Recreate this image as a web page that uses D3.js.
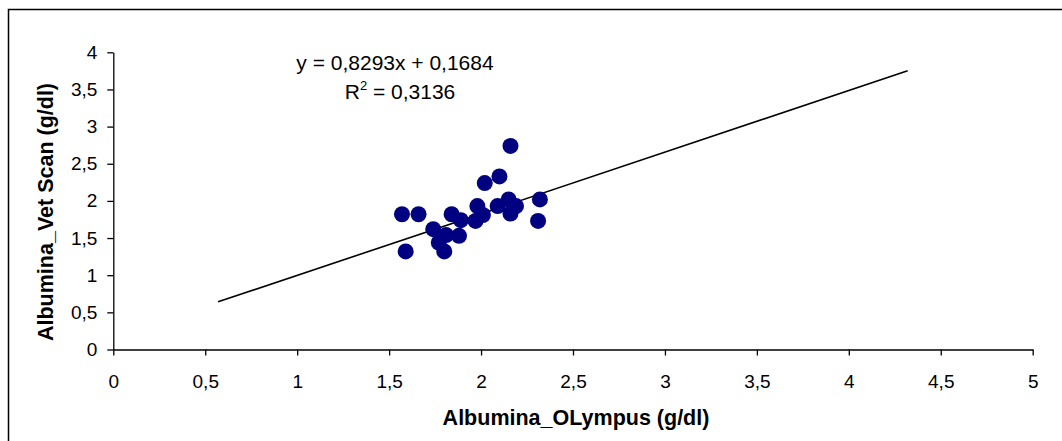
<!DOCTYPE html>
<html>
<head>
<meta charset="utf-8">
<script src="https://cdn.jsdelivr.net/npm/d3@7"></script>
<style>
  html, body { margin: 0; padding: 0; background: #fff; }
  svg { display: block; font-family: Arial, "Liberation Sans", sans-serif; }
</style>
</head>
<body>
<svg id="chart" width="1062" height="441"></svg>
<script>
// Albumin measured on the Olympus analyser (x) vs the Vet Scan (y), g/dl
const olympus = [2.16, 2.10, 2.02, 1.57, 1.66, 1.59, 2.32, 2.31, 1.74, 1.84, 1.89,
                 1.77, 1.80, 1.81, 1.88, 1.98, 1.97, 2.01, 2.09, 2.15, 2.16, 2.19];
const vetScan = [2.74, 2.33, 2.24, 1.82, 1.82, 1.32, 2.02, 1.73, 1.62, 1.82, 1.74,
                 1.44, 1.32, 1.54, 1.53, 1.93, 1.73, 1.81, 1.93, 2.02, 1.83, 1.93];

// Linear trendline (Excel fit), extended 1 unit back and 2 units forward
const slope = 0.8293;
const intercept = 0.1684;
const rSquared = 0.3136;
const trendBackward = 1;
const trendForward = 2;

const xTicks = [0, 0.5, 1, 1.5, 2, 2.5, 3, 3.5, 4, 4.5, 5];
const yTicks = [0, 0.5, 1, 1.5, 2, 2.5, 3, 3.5, 4];

const fmt = v => String(v).replace(".", ",");

const svg = d3.select("#chart");

// Chart area border
svg.append("rect")
  .attr("x", 8.5).attr("y", 9.5)
  .attr("width", 1100).attr("height", 500)
  .attr("fill", "none").attr("stroke", "#000").attr("stroke-width", 1.5);

const plotLeft = 113.3, plotRight = 1032.7, plotTop = 52.3, plotBottom = 349.5;

const x = d3.scaleLinear().domain([0, 5]).range([plotLeft, plotRight]);
const y = d3.scaleLinear().domain([0, 4]).range([plotBottom, plotTop]);

const xAxis = svg.append("g")
  .attr("transform", `translate(0,${plotBottom})`)
  .call(d3.axisBottom(x).tickValues(xTicks).tickFormat(fmt).tickSize(6).tickSizeOuter(0).tickPadding(19));

const yAxis = svg.append("g")
  .attr("transform", `translate(${plotLeft},0)`)
  .call(d3.axisLeft(y).tickValues(yTicks).tickFormat(fmt).tickSize(6).tickSizeOuter(0).tickPadding(10));

[xAxis, yAxis].forEach(g => {
  g.select(".domain").attr("stroke", "#000").attr("stroke-width", 1.3);
  g.selectAll(".tick line").attr("stroke", "#000").attr("stroke-width", 1.3);
  g.selectAll(".tick text")
    .attr("fill", "#000")
    .style("font-family", "Arial, 'Liberation Sans', sans-serif")
    .style("font-size", "19px");
});

// Trendline
const xMin = d3.min(olympus) - trendBackward;
const xMax = d3.max(olympus) + trendForward;
svg.append("line")
  .attr("x1", x(xMin)).attr("y1", y(slope * xMin + intercept))
  .attr("x2", x(xMax)).attr("y2", y(slope * xMax + intercept))
  .attr("stroke", "#000").attr("stroke-width", 1.6);

// Data points
svg.append("g").selectAll("circle")
  .data(olympus.map((v, i) => [v, vetScan[i]]))
  .join("circle")
  .attr("cx", d => x(d[0]))
  .attr("cy", d => y(d[1]))
  .attr("r", 8)
  .attr("fill", "#000080");

// Equation and R²
svg.append("text")
  .attr("x", 395).attr("y", 70)
  .attr("text-anchor", "middle")
  .style("font-size", "21px")
  .text(`y = ${fmt(slope)}x + ${fmt(intercept)}`);

const r2 = svg.append("text")
  .attr("x", 400).attr("y", 99)
  .attr("text-anchor", "middle")
  .style("font-size", "21px");
r2.append("tspan").text("R");
r2.append("tspan").attr("dy", -9).style("font-size", "13px").text("2");
r2.append("tspan").attr("dy", 9).text(` = ${fmt(rSquared)}`);

// Axis titles
svg.append("text")
  .attr("x", 576).attr("y", 425)
  .attr("text-anchor", "middle")
  .style("font-size", "21.5px").style("font-weight", "bold")
  .text("Albumina_OLympus (g/dl)");

svg.append("text")
  .attr("transform", "translate(53,212) rotate(-90)")
  .attr("text-anchor", "middle")
  .style("font-size", "21.5px").style("font-weight", "bold")
  .text("Albumina_Vet Scan (g/dl)");
</script>
</body>
</html>
